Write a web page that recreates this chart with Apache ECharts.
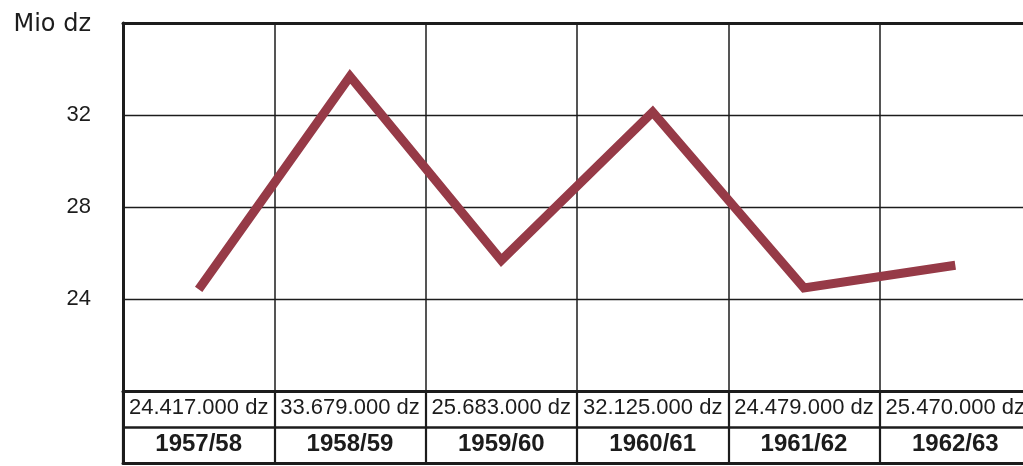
<!DOCTYPE html>
<html>
<head>
<meta charset="utf-8">
<script src="https://cdn.jsdelivr.net/npm/echarts@6/dist/echarts.min.js"></script>
<style>
  html, body { margin: 0; padding: 0; background: #ffffff; overflow: hidden; }
  /* canvas runs a little past the right edge so the last column is cut off */
  #chart { width: 1031px; height: 466px; }
</style>
</head>
<body>
<div id="chart"></div>
<script>
// Harvest per season, in Doppelzentner (dz)
const seasons = ['1957/58', '1958/59', '1959/60', '1960/61', '1961/62', '1962/63'];
const harvestDz = [24417000, 33679000, 25683000, 32125000, 24479000, 25470000];
const yTicks = [24, 28, 32];
const yUnit = 'Mio dz';

const FONT = '"Liberation Sans", Arial, sans-serif';
const WIDE = '"DejaVu Sans", sans-serif';
const INK = '#1c1c1c';

// German thousands separator: 24417000 -> "24.417.000 dz"
function formatDz(v) {
  return String(v).replace(/\B(?=(\d{3})+(?!\d))/g, '.') + ' dz';
}

const valueLabels = harvestDz.map(formatDz);
const millions = harvestDz.map(v => v / 1e6);

const chart = echarts.init(document.getElementById('chart'), null, { renderer: 'canvas' });

chart.setOption({
  animation: false,
  backgroundColor: '#ffffff',
  grid: [
    { left: 123, top: 23, right: 0, height: 368 },
    { left: 123, top: 391, right: 0, height: 72 }
  ],
  xAxis: [
    {
      type: 'category',
      gridIndex: 0,
      data: seasons,
      boundaryGap: true,
      axisLine: { show: true, lineStyle: { color: INK, width: 3 } },
      axisTick: { show: false },
      splitLine: { show: true, lineStyle: { color: INK, width: 1.5 } },
      axisLabel: {
        interval: 0,
        margin: 0,
        formatter: function (val, idx) {
          return '{v|' + valueLabels[idx] + '}\n{y|' + val + '}';
        },
        rich: {
          v: { fontFamily: FONT, fontSize: 22, color: INK, lineHeight: 34, height: 34 },
          y: { fontFamily: FONT, fontSize: 24, fontWeight: 'bold', color: INK, lineHeight: 38, height: 38 }
        }
      }
    },
    {
      // heavy top frame of the plot area
      type: 'category',
      gridIndex: 0,
      position: 'top',
      data: seasons,
      axisLine: { show: true, lineStyle: { color: INK, width: 3 } },
      axisTick: { show: false },
      axisLabel: { show: false },
      splitLine: { show: false }
    },
    {
      type: 'category',
      gridIndex: 1,
      data: seasons,
      boundaryGap: true,
      axisLine: { show: true, lineStyle: { color: INK, width: 3 } },
      axisTick: { show: false },
      axisLabel: { show: false },
      splitLine: { show: true, lineStyle: { color: INK, width: 2.2 } }
    }
  ],
  yAxis: [
    {
      type: 'value',
      gridIndex: 0,
      min: 20,
      max: 36,
      interval: 4,
      axisLine: { show: true, lineStyle: { color: INK, width: 3 } },
      axisTick: { show: false },
      splitLine: { show: true, lineStyle: { color: INK, width: 1.3 } },
      axisLabel: {
        margin: 32,
        fontFamily: FONT,
        fontSize: 22,
        color: INK,
        formatter: function (v) {
          if (v === 36) return '{u|' + yUnit + '}';
          return yTicks.indexOf(v) >= 0 ? String(v) : '';
        },
        rich: {
          u: { fontFamily: WIDE, fontSize: 24, color: INK, padding: [4, 0, 0, 0] }
        }
      }
    },
    {
      type: 'value',
      gridIndex: 1,
      min: 0,
      max: 2,
      interval: 1,
      axisLine: { show: true, lineStyle: { color: INK, width: 3 } },
      axisTick: { show: false },
      axisLabel: { show: false },
      splitLine: { show: true, lineStyle: { color: INK, width: 2.5 } }
    }
  ],
  series: [
    {
      type: 'line',
      xAxisIndex: 0,
      yAxisIndex: 0,
      data: millions,
      symbol: 'none',
      lineStyle: { color: '#963a47', width: 9, cap: 'butt', join: 'miter' }
    }
  ]
});
</script>
</body>
</html>
